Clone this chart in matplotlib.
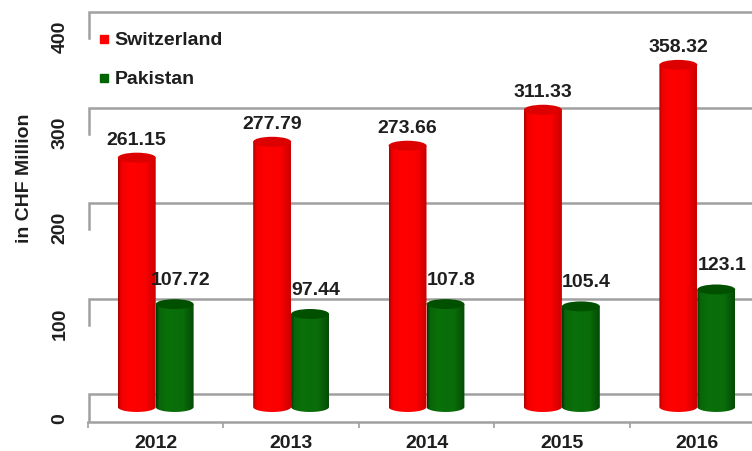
import numpy as np
import matplotlib
matplotlib.use("Agg")
from matplotlib import pyplot as plt
from matplotlib import transforms
from matplotlib.path import Path
from matplotlib.patches import PathPatch, Ellipse
from matplotlib.lines import Line2D

# Data
years = ["2012", "2013", "2014", "2015", "2016"]
switzerland = [261.15, 277.79, 273.66, 311.33, 358.32]
pakistan = [107.72, 97.44, 107.8, 105.4, 123.1]
y_ticks = [0, 100, 200, 300, 400]

plt.rcParams['font.family'] = ['Liberation Sans', 'DejaVu Sans']
TXT = "#1e1e1e"
GRID = "#a0a0a0"

fig = plt.figure(figsize=(7.52, 4.51), dpi=100)
ax = fig.add_axes([88 / 752, 29 / 451, 677 / 752, 417 / 451])

bar_w = 0.28
cap_h = 5.2      # half height of the cylinder caps, value units
back = 13.6      # shift of the back wall, value units


def cylinder(x, v, light, dark, top):
    left, right = x - bar_w / 2, x + bar_w / 2
    t = np.linspace(np.pi, 2 * np.pi, 40)
    verts = [(left, v), (left, 0)]
    verts += list(zip(x + bar_w / 2 * np.cos(t), cap_h * np.sin(t)))
    verts += [(right, v), (left, v)]
    codes = [Path.MOVETO] + [Path.LINETO] * (len(verts) - 2) + [Path.CLOSEPOLY]
    body = PathPatch(Path(verts, codes), facecolor="none", edgecolor="none",
                     transform=ax.transData)
    ax.add_patch(body)
    # horizontal shading: dark edges, flat bright middle
    pos = np.linspace(0, 1, 64)
    prof = np.interp(pos, [0, 0.08, 0.3, 0.72, 1], [0.15, 0.85, 1, 0.95, 0.45])
    c0 = np.array(matplotlib.colors.to_rgb(dark))
    c1 = np.array(matplotlib.colors.to_rgb(light))
    img = c0[None, :] + (c1 - c0)[None, :] * prof[:, None]
    im = ax.imshow(img[None, :, :], extent=(left, right, -cap_h, v),
                   aspect="auto", zorder=2, interpolation="bilinear")
    im.set_clip_path(body)
    ax.add_patch(Ellipse((x, v), bar_w, 2 * cap_h, facecolor=top,
                         edgecolor="none", zorder=3))


for i in range(len(years)):
    cylinder(i - 0.14, switzerland[i], "#ff0000", "#a00000", "#dc0000")
    cylinder(i + 0.14, pakistan[i], "#0a700a", "#002c00", "#005000")

# back wall gridlines with the short side bracket
x0 = -0.49
for v in y_ticks:
    ax.plot([x0, x0, 5], [v - back, v + back, v + back],
            color=GRID, lw=1.8, zorder=0.5, solid_joinstyle="miter")

# value labels
for i in range(len(years)):
    ax.annotate(f"{switzerland[i]:g}", (i - 0.14, switzerland[i]), xytext=(0, 12.5),
                textcoords="offset points", ha="center", va="center",
                fontsize=14, fontweight="bold", color=TXT)
    ax.annotate(f"{pakistan[i]:g}", (i + 0.14, pakistan[i]), xytext=(4, 17),
                textcoords="offset points", ha="center", va="center",
                fontsize=14, fontweight="bold", color=TXT)

ax.set_xlim(x0, 4.5)
ax.set_ylim(-15.7, 421)

# y tick labels sit on the front plane
ytrans = transforms.blended_transform_factory(fig.transFigure, ax.transData) + \
    transforms.ScaledTranslation(0, -0.12, fig.dpi_scale_trans)
for v in y_ticks:
    ax.text(60 / 752, v, str(v), transform=ytrans, rotation=90, ha="center",
            va="center", fontsize=14, fontweight="bold", color=TXT)
ax.set_yticks([])

ax.set_xticks(range(len(years)))
ax.set_xticklabels(years, fontsize=14, fontweight="bold", color=TXT)
ax.set_xticks(np.arange(-0.5, 5, 1), minor=True)
ax.tick_params(axis="x", which="major", length=0, pad=9)
ax.tick_params(axis="x", which="minor", length=4, width=1.2, color=GRID)

for s in ["left", "top", "right"]:
    ax.spines[s].set_visible(False)
ax.spines["bottom"].set_color(GRID)
ax.spines["bottom"].set_linewidth(1.8)

fig.text(25 / 752, 1 - 178 / 451, "in CHF Million", rotation=90, ha="center",
         va="center", fontsize=14, fontweight="bold", color=TXT)

handles = [Line2D([], [], marker="s", ls="", color="#ff0000", markersize=6),
           Line2D([], [], marker="s", ls="", color="#006400", markersize=6)]
fig.legend(handles, ["Switzerland", "Pakistan"], loc="upper left",
           bbox_to_anchor=(88 / 752, 1 - 22 / 451), frameon=False,
           prop={"size": 14, "weight": "bold"}, labelcolor=TXT,
           handlelength=0.6, handletextpad=0.25, labelspacing=1.1, borderpad=0)

fig.savefig("out.png", dpi=100)
